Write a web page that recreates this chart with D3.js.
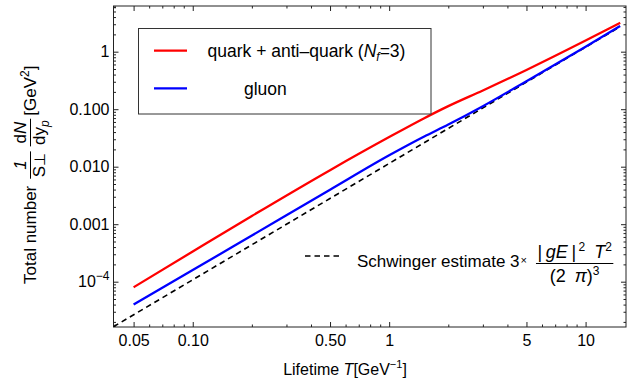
<!DOCTYPE html>
<html>
<head>
<meta charset="utf-8">
<script src="https://cdn.jsdelivr.net/npm/d3@7"></script>
<style>
  body { margin: 0; background: #fff; }
  text { font-family: "Liberation Sans", Arial, sans-serif; font-size: 16px; fill: #000; }
</style>
</head>
<body>
<div id="chart"></div>
<script>
// values
const lifetime = [0.05, 0.1, 0.2, 0.5, 1, 1.5, 2, 3, 5, 10, 15];
const quark = [8.0e-5, 3.35e-4, 1.39e-3, 8.7e-3, 0.0327, 0.069, 0.113, 0.212, 0.481, 1.56, 3.18];
const gluon = [4.0e-5, 1.59e-4, 6.36e-4, 3.98e-3, 0.0158, 0.0332, 0.0542, 0.113, 0.307, 1.22, 2.8];
const schwingerT = [0.0395, 0.1, 1, 10, 15];
const schwinger = [1.65e-5, 1.08e-4, 0.01139, 1.2, 2.72];

const xTicks = [0.05, 0.1, 0.5, 1, 5, 10];
const xTickLabels = ['0.05', '0.10', '0.50', '1', '5', '10'];
const yTicks = [1e-4, 1e-3, 1e-2, 0.1, 1];
const yTickLabels = ['10^-4', '0.001', '0.010', '0.100', '1'];

const width = 628, height = 386;
const margin = {top: 6, right: 2, bottom: 59, left: 113.5};

const x = d3.scaleLog().domain([0.0395, 16.06]).range([margin.left, width - margin.right]);
const y = d3.scaleLog().domain([1.63e-5, 6.23]).range([height - margin.bottom, margin.top]);

const svg = d3.select('#chart').append('svg')
  .attr('width', width)
  .attr('height', height);

const axisColor = '#222';

// minor ticks = every 1..9 multiple that is not a major one
const isDecade = v => Math.abs(Math.log10(v) - Math.round(Math.log10(v))) < 1e-6;
const xMinor = x.ticks().filter(v => !xTicks.some(t => Math.abs(t - v) / t < 1e-6));
const yMinor = y.ticks().filter(v => !isDecade(v));
const yMajorAll = y.ticks().filter(isDecade);

function styleAxis(g) {
  g.select('.domain').remove();
  g.selectAll('line').attr('stroke', axisColor);
  g.attr('font-family', '"Liberation Sans", Arial, sans-serif').attr('font-size', 16);
  g.selectAll('text').attr('fill', '#000');
}

// bottom
svg.append('g')
  .attr('transform', `translate(0,${height - margin.bottom})`)
  .call(d3.axisBottom(x).tickValues(xTicks).tickSizeInner(-5).tickSizeOuter(0).tickPadding(8)
    .tickFormat((d, i) => xTickLabels[i]))
  .call(styleAxis);
svg.append('g')
  .attr('transform', `translate(0,${height - margin.bottom})`)
  .call(d3.axisBottom(x).tickValues(xMinor).tickSizeInner(-2.5).tickSizeOuter(0).tickFormat(''))
  .call(styleAxis);
// top
svg.append('g')
  .attr('transform', `translate(0,${margin.top})`)
  .call(d3.axisTop(x).tickValues(xTicks).tickSizeInner(-5).tickSizeOuter(0).tickFormat(''))
  .call(styleAxis);
svg.append('g')
  .attr('transform', `translate(0,${margin.top})`)
  .call(d3.axisTop(x).tickValues(xMinor).tickSizeInner(-2.5).tickSizeOuter(0).tickFormat(''))
  .call(styleAxis);

// left
const yAxisG = svg.append('g')
  .attr('transform', `translate(${margin.left},0)`)
  .call(d3.axisLeft(y).tickValues(yTicks).tickSizeInner(-5).tickSizeOuter(0).tickPadding(4)
    .tickFormat((d, i) => yTickLabels[i]))
  .call(styleAxis);
svg.append('g')
  .attr('transform', `translate(${margin.left},0)`)
  .call(d3.axisLeft(y).tickValues(yMinor).tickSizeInner(-2.5).tickSizeOuter(0).tickFormat(''))
  .call(styleAxis);
// right
svg.append('g')
  .attr('transform', `translate(${width - margin.right},0)`)
  .call(d3.axisRight(y).tickValues(yMajorAll).tickSizeInner(-5).tickSizeOuter(0).tickFormat(''))
  .call(styleAxis);
svg.append('g')
  .attr('transform', `translate(${width - margin.right},0)`)
  .call(d3.axisRight(y).tickValues(yMinor).tickSizeInner(-2.5).tickSizeOuter(0).tickFormat(''))
  .call(styleAxis);

// power-of-ten label
yAxisG.selectAll('text').each(function(d, i) {
  const lab = yTickLabels[i];
  if (lab.indexOf('^') < 0) return;
  const parts = lab.split('^');
  const t = d3.select(this).text('');
  t.append('tspan').text(parts[0]);
  t.append('tspan').attr('font-size', 12).attr('dy', -7).text(parts[1].replace('-', '\u2212'));
});

// frame
svg.append('rect')
  .attr('x', margin.left).attr('y', margin.top)
  .attr('width', width - margin.right - margin.left)
  .attr('height', height - margin.bottom - margin.top)
  .attr('fill', 'none').attr('stroke', axisColor).attr('stroke-width', 1);

svg.append('clipPath').attr('id', 'clip')
  .append('rect')
  .attr('x', margin.left).attr('y', margin.top)
  .attr('width', width - margin.right - margin.left)
  .attr('height', height - margin.bottom - margin.top);

let curve = d3.line()
  .x(d => x(d[0]))
  .y(d => y(d[1]))
  .curve(d3.curveMonotoneX);

let straight = d3.line()
  .x(d => x(d[0]))
  .y(d => y(d[1]));

const plotG = svg.append('g').attr('clip-path', 'url(#clip)');

plotG.append('path')
  .datum(schwingerT.map((t, i) => [t, schwinger[i]]))
  .attr('d', straight)
  .attr('fill', 'none').attr('stroke', '#000').attr('stroke-width', 1.6)
  .attr('stroke-dasharray', '5.5,4');

plotG.append('path')
  .datum(lifetime.map((t, i) => [t, gluon[i]]))
  .attr('d', curve)
  .attr('fill', 'none').attr('stroke', '#0000ff').attr('stroke-width', 2.3);

plotG.append('path')
  .datum(lifetime.map((t, i) => [t, quark[i]]))
  .attr('d', curve)
  .attr('fill', 'none').attr('stroke', '#ff0000').attr('stroke-width', 2.3);

// legend
svg.append('rect')
  .attr('x', 138.5).attr('y', 28.5).attr('width', 292.5).attr('height', 85.5)
  .attr('fill', '#fff').attr('stroke', '#333').attr('stroke-width', 1);

svg.append('line').attr('x1', 154).attr('x2', 187).attr('y1', 50.7).attr('y2', 50.7)
  .attr('stroke', '#ff0000').attr('stroke-width', 2.3);
svg.append('line').attr('x1', 154).attr('x2', 187).attr('y1', 88.3).attr('y2', 88.3)
  .attr('stroke', '#0000ff').attr('stroke-width', 2.3);

const lt = svg.append('text').attr('x', 207.5).attr('y', 57).style('font-size', '17.5px');
lt.append('tspan').text('quark + anti\u2013quark (');
lt.append('tspan').attr('font-style', 'italic').text('N');
lt.append('tspan').attr('font-style', 'italic').style('font-size', '12px').attr('dy', 4).text('f');
lt.append('tspan').attr('dy', -4).text('=3)');

svg.append('text').attr('x', 244).attr('y', 95).style('font-size', '17.5px').text('gluon');

// x axis label
const xl = svg.append('text').attr('x', 345).attr('y', 375).attr('text-anchor', 'middle');
xl.append('tspan').text('Lifetime ');
xl.append('tspan').attr('font-style', 'italic').text('T');
xl.append('tspan').text('[GeV');
xl.append('tspan').style('font-size', '11px').attr('dy', -7).text('\u22121');
xl.append('tspan').attr('dy', 7).text(']');

// y axis label, drawn in a rotated frame
const yl = svg.append('g').attr('transform', 'rotate(-90)');
let cur = -284;
const tn = yl.append('text').attr('x', cur).attr('y', 36).style('font-size', '17px').text('Total number');
cur += tn.node().getComputedTextLength() + 7;

function fraction(g, start, numFn, denFn, numY, barY, denY, size) {
  const den = g.append('text').attr('x', start).attr('y', denY).style('font-size', size + 'px');
  denFn(den);
  const w = den.node().getComputedTextLength();
  const num = g.append('text').attr('x', start + w / 2).attr('y', numY)
    .attr('text-anchor', 'middle').style('font-size', size + 'px');
  numFn(num);
  const wn = num.node().getComputedTextLength();
  const bw = Math.max(w, wn) + 3;
  den.attr('x', start + (bw - w) / 2);
  num.attr('x', start + bw / 2);
  g.append('line').attr('x1', start).attr('x2', start + bw)
    .attr('y1', barY).attr('y2', barY).attr('stroke', '#000').attr('stroke-width', 1);
  return start + bw;
}

cur = fraction(yl, cur,
  t => t.append('tspan').attr('font-style', 'italic').text('1'),
  t => { t.append('tspan').text('S'); t.append('tspan').style('font-size', '15px').text('\u22a5'); },
  25.5, 30.5, 45, 17) + 5;
cur = fraction(yl, cur,
  t => { t.append('tspan').text('d'); t.append('tspan').attr('font-style', 'italic').text('N'); },
  t => { t.append('tspan').text('dy');
         t.append('tspan').attr('font-style', 'italic').style('font-size', '12px').attr('dy', 4).text('p'); },
  25.5, 30.5, 45, 17) + 3;
const gev = yl.append('text').attr('x', cur).attr('y', 36).style('font-size', '17px');
gev.append('tspan').text('[GeV');
gev.append('tspan').style('font-size', '12px').attr('dy', -7).text('2');
gev.append('tspan').attr('dy', 7).text(']');

// Schwinger annotation
svg.append('line').attr('x1', 305).attr('x2', 341).attr('y1', 256).attr('y2', 256)
  .attr('stroke', '#000').attr('stroke-width', 1.6).attr('stroke-dasharray', '5.5,4');
const sw = svg.append('text').attr('x', 357).attr('y', 267).style('font-size', '17px');
sw.append('tspan').text('Schwinger estimate 3');
sw.append('tspan').style('font-size', '11px').attr('dx', 1).attr('dy', -3).text('\u00d7');
const swEnd = 357 + sw.node().getComputedTextLength() + 10;
fraction(svg, swEnd,
  t => {
    t.append('tspan').text('|\u2009');
    t.append('tspan').attr('font-style', 'italic').text('gE');
    t.append('tspan').text('\u2009|');
    t.append('tspan').style('font-size', '12px').attr('dy', -7).text('\u20092');
    t.append('tspan').attr('dy', 7).text('\u2002');
    t.append('tspan').attr('font-style', 'italic').text('T');
    t.append('tspan').style('font-size', '12px').attr('dy', -7).text('2');
  },
  t => {
    t.append('tspan').text('(2\u2002');
    t.append('tspan').attr('font-style', 'italic').text('\u03c0');
    t.append('tspan').text(')');
    t.append('tspan').style('font-size', '12px').attr('dy', -7).text('3');
  },
  258, 263.5, 281.5, 18);
</script>
</body>
</html>
